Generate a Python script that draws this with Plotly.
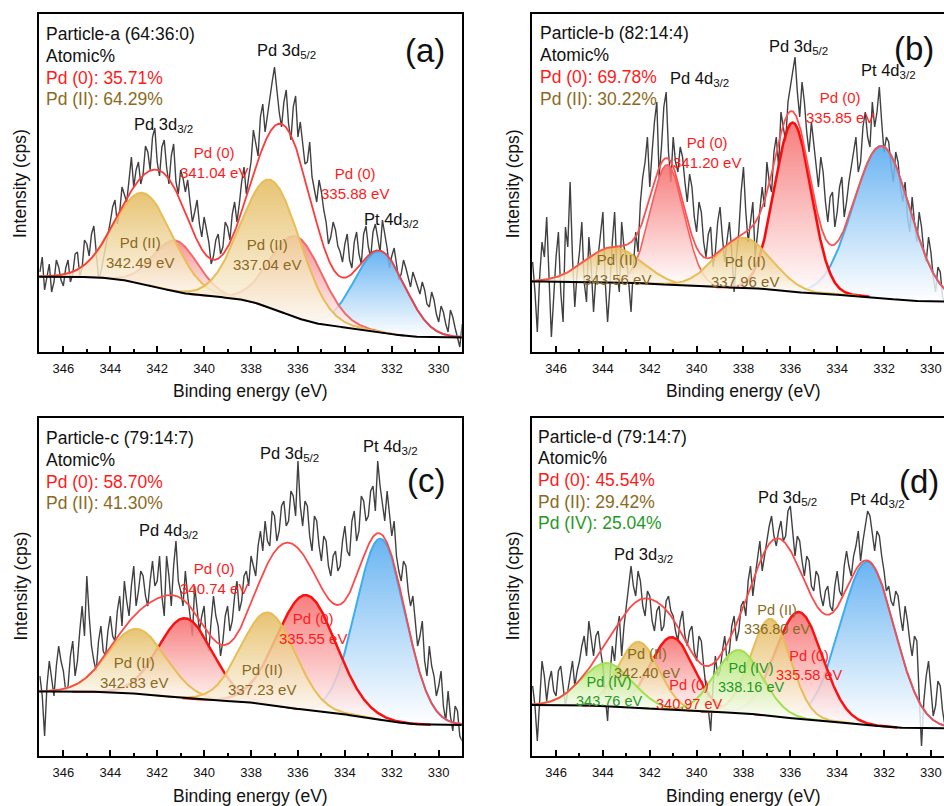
import numpy as np
import plotly.graph_objects as go

# ------------------------------------------------------------------ data
# raw spectra, every 0.1 eV from 347.0 eV down to 329.0 eV
raw_energy = [round(347.0 - 0.1 * i, 1) for i in range(181)]

raw_a = [80, 95, 62, 74, 88, 60, 70, 92, 85, 72, 66, 84, 92, 70, 78, 98, 100, 76, 84, 112,
         108, 96, 118, 126, 96, 74, 80, 92, 104, 118, 130, 145, 152, 128, 140, 165, 158, 150, 172, 195,
         165, 182, 190, 168, 178, 206, 200, 182, 215, 224, 190, 176, 205, 212, 185, 168, 196, 208, 170, 158,
         182, 174, 160, 172, 150, 130, 140, 152, 128, 115, 135, 124, 110, 88, 96, 112, 118, 98, 105, 130,
         125, 112, 138, 150, 130, 148, 170, 185, 158, 175, 190, 222, 210, 196, 235, 248, 220, 238, 255, 270,
         285, 262, 240, 225, 250, 262, 228, 212, 245, 256, 215, 230, 205, 188, 190, 210, 175, 162, 150, 172,
         160, 142, 130, 108, 115, 130, 122, 106, 100, 90, 108, 118, 92, 84, 110, 120, 98, 88, 118, 126,
         105, 95, 120, 128, 112, 100, 132, 118, 104, 84, 96, 104, 88, 72, 78, 92, 84, 74, 65, 80,
         72, 64, 58, 70, 62, 48, 45, 60, 52, 38, 30, 46, 40, 28, 20, 42, 35, 24, 15, 5,
         28]
raw_b = [90, 60, 20, 75, 110, 95, 135, 70, 15, 55, 95, 120, 60, 30, 125, 105, 170, 95, 45, 80,
         100, 130, 70, 50, 115, 85, 40, 75, 95, 118, 140, 70, 30, 65, 110, 140, 80, 60, 130, 105,
         95, 70, 40, 85, 120, 100, 150, 175, 190, 215, 165, 200, 230, 250, 175, 205, 245, 260, 200, 170,
         215, 190, 180, 205, 195, 170, 150, 178, 165, 135, 120, 150, 140, 110, 95, 118, 125, 85, 100, 130,
         145, 115, 90, 112, 130, 100, 60, 95, 120, 160, 185, 140, 110, 130, 150, 95, 120, 140, 165, 145,
         190, 170, 160, 200, 215, 185, 240, 225, 210, 250, 265, 280, 295, 260, 235, 270, 250, 220, 200, 230,
         210, 185, 165, 195, 180, 150, 130, 155, 160, 125, 140, 165, 175, 135, 150, 170, 185, 200, 215, 180,
         190, 225, 240, 215, 205, 250, 225, 240, 265, 230, 200, 215, 210, 185, 170, 200, 190, 165, 150, 170,
         135, 120, 155, 130, 110, 140, 125, 100, 90, 115, 100, 75, 60, 85, 80, 55, 50, 70, 65, 45,
         55]
raw_c = [80, 60, 20, 70, 95, 75, 60, 90, 110, 95, 85, 65, 70, 100, 115, 80, 95, 125, 150, 120,
         180, 140, 110, 95, 85, 115, 130, 105, 100, 125, 140, 120, 115, 145, 160, 130, 175, 155, 140, 170,
         190, 150, 165, 185, 180, 160, 150, 175, 195, 170, 175, 200, 160, 140, 200, 180, 150, 190, 215, 175,
         165, 150, 185, 160, 140, 120, 170, 150, 125, 140, 150, 115, 105, 135, 160, 140, 130, 100, 115, 140,
         150, 125, 135, 160, 175, 145, 155, 180, 185, 170, 200, 190, 180, 210, 225, 205, 235, 215, 210, 245,
         240, 215, 225, 250, 255, 230, 235, 265, 260, 240, 295, 250, 230, 255, 250, 220, 205, 240, 235, 210,
         195, 220, 215, 190, 180, 200, 205, 185, 190, 215, 230, 205, 200, 235, 245, 215, 225, 260, 255, 235,
         240, 265, 270, 245, 295, 270, 250, 235, 265, 240, 220, 235, 200, 185, 175, 195, 190, 165, 150, 160,
         135, 110, 120, 135, 95, 80, 110, 90, 80, 60, 70, 85, 50, 35, 65, 40, 25, 50, 45, 20,
         15]
raw_d = [70, 50, 15, 60, 95, 80, 55, 75, 85, 65, 60, 85, 90, 70, 50, 65, 80, 95, 70, 85,
         95, 110, 120, 100, 135, 115, 100, 120, 125, 105, 90, 60, 35, 80, 110, 95, 125, 140, 100, 130,
         150, 175, 190, 170, 160, 185, 175, 150, 140, 165, 160, 135, 125, 145, 150, 125, 130, 155, 160, 145,
         140, 125, 115, 135, 145, 120, 110, 125, 130, 105, 95, 120, 115, 90, 70, 45, 25, 70, 100, 80,
         85, 105, 120, 95, 105, 130, 140, 115, 125, 150, 155, 140, 175, 190, 160, 180, 200, 215, 185, 200,
         215, 230, 240, 220, 210, 225, 235, 215, 220, 245, 250, 225, 200, 220, 215, 195, 180, 200, 195, 170,
         165, 185, 180, 160, 150, 165, 170, 150, 145, 170, 185, 165, 160, 190, 205, 190, 180, 200, 210, 225,
         195, 215, 230, 245, 240, 220, 205, 225, 220, 200, 185, 165, 170, 155, 150, 165, 160, 140, 125, 150,
         135, 115, 100, 120, 115, 60, 10, 55, 80, 95, 65, 40, 50, 75, 70, 45, 30, 55, 45, 25,
         20]

# fitted components (centre eV, height above background, sigma eV, species)
a_center = [342.59, 341.21, 337.16, 336.06, 332.50]
a_height = [91, 51, 128, 81, 81]
a_sigma = [1.25, 0.95, 1.25, 1.10, 1.07]
a_kind = ["PdII", "Pd0", "PdII", "Pd0", "Pt"]
a_bg = [14.5, 75.3]          # background level at low / high binding energy

b_center = [343.55, 341.25, 338.00, 335.89, 332.10]
b_height = [35, 120, 50, 169, 152]
b_sigma = [1.20, 0.72, 1.18, 0.78, 1.20]
b_kind = ["PdII", "Pd0", "PdII", "Pd0", "Pt"]
b_bg = [50.3, 70.5]

c_center = [342.87, 340.80, 337.27, 335.63, 332.47]
c_height = [65, 80, 92, 115, 181]
c_sigma = [1.23, 1.15, 1.15, 1.26, 1.05]
c_kind = ["PdII", "Pd0", "PdII", "Pd0", "Pt"]
c_bg = [31.0, 64.5]

d_center = [343.83, 342.48, 341.05, 338.20, 336.84, 335.63, 332.70]
d_height = [43, 66, 73, 63, 97, 107, 163]
d_sigma = [1.08, 0.87, 0.92, 1.00, 0.85, 1.00, 1.15]
d_kind = ["PdIV", "PdII", "Pd0", "PdIV", "PdII", "Pd0", "Pt"]
d_bg = [27.5, 51.0]

# text
a_header = ["Particle-a (64:36:0)", "Atomic%", "Pd (0): 35.71%", "Pd (II): 64.29%"]
b_header = ["Particle-b (82:14:4)", "Atomic%", "Pd (0): 69.78%", "Pd (II): 30.22%"]
c_header = ["Particle-c (79:14:7)", "Atomic%", "Pd (0): 58.70%", "Pd (II): 41.30%"]
d_header = ["Particle-d (79:14:7)", "Atomic%", "Pd (0): 45.54%", "Pd (II): 29.42%",
            "Pd (IV): 25.04%"]
header_kind = ["name", "name", "Pd0", "PdII", "PdIV"]

a_labels = [("Pd 3d<sub>5/2</sub>", 336.48, 300.7, "name"),
            ("Pd 3d<sub>3/2</sub>", 341.74, 226.7, "name"),
            ("Pt 4d<sub>3/2</sub>", 332.00, 131.7, "name"),
            ("Pd (0)<br>341.04 eV", 339.60, 189.8, "Pd0"),
            ("Pd (0)<br>335.88 eV", 333.57, 169.0, "Pd0"),
            ("Pd (II)<br>342.49 eV", 342.73, 99.2, "PdII"),
            ("Pd (II)<br>337.04 eV", 337.33, 97.5, "PdII")]
b_labels = [("Pd 4d<sub>3/2</sub>", 339.88, 272.7, "name"),
            ("Pd 3d<sub>5/2</sub>", 335.65, 305.0, "name"),
            ("Pt 4d<sub>3/2</sub>", 331.81, 280.7, "name"),
            ("Pd (0)<br>335.85 eV", 333.87, 244.2, "Pd0"),
            ("Pd (0)<br>341.20 eV", 339.54, 199.5, "Pd0"),
            ("Pd (II)<br>343.56 eV", 343.41, 82.4, "PdII"),
            ("Pd (II)<br>337.96 eV", 337.93, 80.7, "PdII")]
c_labels = [("Pd 3d<sub>5/2</sub>", 336.34, 302.3, "name"),
            ("Pt 4d<sub>3/2</sub>", 332.04, 309.0, "name"),
            ("Pd 4d<sub>3/2</sub>", 341.51, 224.7, "name"),
            ("Pd (0)<br>340.74 eV", 339.59, 177.2, "Pd0"),
            ("Pd (0)<br>335.55 eV", 335.35, 127.7, "Pd0"),
            ("Pd (II)<br>342.83 eV", 343.00, 83.2, "PdII"),
            ("Pd (II)<br>337.23 eV", 337.52, 76.4, "PdII")]
d_labels = [("Pd 3d<sub>5/2</sub>", 336.13, 258.0, "name"),
            ("Pt 4d<sub>3/2</sub>", 332.28, 255.7, "name"),
            ("Pd 3d<sub>3/2</sub>", 342.26, 201.3, "name"),
            ("Pd (II)<br>336.80 eV", 336.56, 136.5, "PdII"),
            ("Pd (0)<br>335.58 eV", 335.20, 90.7, "Pd0"),
            ("Pd (IV)<br>338.16 eV", 337.70, 78.9, "PdIV"),
            ("Pd (II)<br>342.40 eV", 342.12, 92.2, "PdII"),
            ("Pd (0)<br>340.97 eV", 340.34, 61.4, "Pd0"),
            ("Pd (IV)<br>343.76 eV", 343.76, 64.4, "PdIV")]

panel_tag = ["(a)", "(b)", "(c)", "(d)"]
tick_vals = [346, 344, 342, 340, 338, 336, 334, 332, 330]
x_title = "Binding energy (eV)"
y_title = "Intensity (cps)"

# ------------------------------------------------------------------ styling
W, H = 944, 806
FONT = "Liberation Sans, Arial, sans-serif"
TEXT_COL = {"name": "#111111", "Pd0": "#ff1a1a", "PdII": "#8a6a22", "PdIV": "#1f9a1f"}
LINE_COL = {"PdII": "#e9bd55", "Pd0": "#ff1f1f", "Pt": "#3aaef2", "PdIV": "#a2e052"}
FILL_COL = {"PdII": "rgba(228,186,92,0.86)", "Pd0": "rgba(246,104,104,0.86)",
            "Pt": "rgba(86,170,240,0.88)", "PdIV": "rgba(172,228,100,0.84)"}
FILL_BASE = "rgba(255,255,255,0.82)"
DRAW_ORDER = ["Pt", "Pd0", "PdII", "PdIV"]

panels = [
    dict(raw=raw_a, c=a_center, h=a_height, s=a_sigma, k=a_kind, bg=a_bg,
         head=a_header, lab=a_labels, tagpos=(330.59, 302.0), hx=346.81,
         hy=[317.7, 296.0, 274.3, 252.7],
         xd=(39.2, 461.7), yd=(14.0, 352.0), xr=(347.03, 329.02), mirror=True,
         pd0_line=["#f26a6a", "#f26a6a"], pd0_w=[2.0, 2.0], pd0_fill="rgba(246,128,128,0.84)",
         env="#ff3a3a", xt=(250.4, 391.0), yt=(20.0, 184.0), lblsize=15),
    dict(raw=raw_b, c=b_center, h=b_height, s=b_sigma, k=b_kind, bg=b_bg,
         head=b_header, lab=b_labels, tagpos=(330.74, 303.7), hx=346.78,
         hy=[318.7, 297.0, 275.3, 253.3],
         xd=(531.7, 944.0), yd=(14.0, 352.0), xr=(347.04, 329.44), mirror=False,
         pd0_line=["#ff5a5a", "#ff0a0a"], pd0_w=[1.6, 2.6], pd0_fill=FILL_COL["Pd0"],
         env="#ff5050", xt=(743.0, 391.0), yt=(513.3, 184.0), lblsize=15),
    dict(raw=raw_c, c=c_center, h=c_height, s=c_sigma, k=c_kind, bg=c_bg,
         head=c_header, lab=c_labels, tagpos=(330.54, 276.0), hx=346.81,
         hy=[317.7, 296.0, 274.3, 252.7],
         xd=(39.2, 461.7), yd=(417.5, 756.0), xr=(347.03, 329.02), mirror=True,
         pd0_line=["#ff1010", "#ff1010"], pd0_w=[2.5, 2.5], pd0_fill=FILL_COL["Pd0"],
         env="#ff4848", xt=(250.4, 796.0), yt=(20.0, 586.5), lblsize=15),
    dict(raw=raw_d, c=d_center, h=d_height, s=d_sigma, k=d_kind, bg=d_bg,
         head=d_header, lab=d_labels, tagpos=(330.49, 274.3), hx=346.86,
         hy=[319.3, 297.7, 276.0, 254.3, 232.7],
         xd=(531.7, 944.0), yd=(417.5, 756.0), xr=(347.04, 329.44), mirror=False,
         pd0_line=["#ff1010", "#ff1010"], pd0_w=[2.5, 2.5], pd0_fill=FILL_COL["Pd0"],
         env="#ff4848", xt=(743.0, 796.0), yt=(513.3, 586.0), lblsize=14.5),
]

grid = np.linspace(328.8, 347.2, 921)   # ascending binding energy

fig = go.Figure()
annotations = []
layout_axes = {}

for i, p in enumerate(panels):
    n = "" if i == 0 else str(i + 1)
    xa, ya = "x" + n, "y" + n
    comps = [h * np.exp(-(grid - c) ** 2 / (2 * s ** 2))
             for c, h, s in zip(p["c"], p["h"], p["s"])]
    total = np.sum(comps, axis=0)
    shirley = np.cumsum(total) / total.sum()
    bg = p["bg"][0] + (p["bg"][1] - p["bg"][0]) * shirley

    # raw spectrum
    fig.add_trace(go.Scatter(x=raw_energy, y=p["raw"], mode="lines",
                             line=dict(color="#404040", width=1.4),
                             xaxis=xa, yaxis=ya, showlegend=False, hoverinfo="skip"))

    # line style of each component
    styles = []
    j0 = 0
    for k in p["k"]:
        if k == "Pd0":
            styles.append((p["pd0_line"][j0], p["pd0_w"][j0], p["pd0_fill"]))
            j0 += 1
        else:
            styles.append((LINE_COL[k], 2.0, FILL_COL[k]))

    order = sorted(range(len(p["k"])), key=lambda q: DRAW_ORDER.index(p["k"][q]))
    for q in order:
        c, s, comp = p["c"][q], p["s"][q], comps[q]
        lcol, lw, fcol = styles[q]
        m = (grid > c - 4.2 * s) & (grid < c + 4.2 * s)
        xs = grid[m]
        top = (bg + comp)[m]
        base = bg[m]
        fig.add_trace(go.Scatter(
            x=np.concatenate([xs, xs[::-1]]), y=np.concatenate([top, base[::-1]]),
            mode="none", fill="toself",
            fillgradient=dict(type="vertical", start=float(base.min()), stop=float(top.max()),
                              colorscale=[[0, FILL_BASE], [1, fcol]]),
            xaxis=xa, yaxis=ya, showlegend=False, hoverinfo="skip"))
        fig.add_trace(go.Scatter(x=xs, y=top, mode="lines",
                                 line=dict(color=lcol, width=lw),
                                 xaxis=xa, yaxis=ya, showlegend=False, hoverinfo="skip"))

    # envelope and background
    fig.add_trace(go.Scatter(x=grid, y=bg + total, mode="lines",
                             line=dict(color=p["env"], width=1.8),
                             xaxis=xa, yaxis=ya, showlegend=False, hoverinfo="skip"))
    fig.add_trace(go.Scatter(x=grid, y=bg, mode="lines",
                             line=dict(color="black", width=2.0),
                             xaxis=xa, yaxis=ya, showlegend=False, hoverinfo="skip"))

    # axes
    yr = p["yd"][1] - p["yd"][0]
    layout_axes["xaxis" + n] = dict(
        domain=[p["xd"][0] / W, p["xd"][1] / W], range=list(p["xr"]), anchor=ya,
        showline=True, linecolor="black", linewidth=2, mirror=True,
        ticks="inside", ticklen=6, tickwidth=2, tickcolor="black",
        tickvals=tick_vals, ticklabelstandoff=3,
        tickfont=dict(family=FONT, size=13, color="#111111"),
        minor=dict(ticks="inside", ticklen=3, tickwidth=2, tickcolor="black",
                   dtick=1, tick0=0, showgrid=False),
        showgrid=False, zeroline=False)
    layout_axes["yaxis" + n] = dict(
        domain=[1 - p["yd"][1] / H, 1 - p["yd"][0] / H], range=[0, yr], anchor=xa,
        showline=True, linecolor="black", linewidth=2, mirror=p["mirror"],
        ticks="", showticklabels=False, showgrid=False, zeroline=False)

    # header text
    for t, yy, kk in zip(p["head"], p["hy"], header_kind):
        annotations.append(dict(text=t, x=p["hx"], y=yy, xref=xa, yref=ya,
                                xanchor="left", yanchor="middle", showarrow=False,
                                font=dict(family=FONT, size=17.5, color=TEXT_COL[kk])))
    # peak labels
    for t, xx, yy, kk in p["lab"]:
        size = 16.5 if kk == "name" else p["lblsize"]
        annotations.append(dict(text=t, x=xx, y=yy, xref=xa, yref=ya,
                                xanchor="center", yanchor="middle", showarrow=False,
                                align="center",
                                font=dict(family=FONT, size=size, color=TEXT_COL[kk])))
    # panel tag
    annotations.append(dict(text=panel_tag[i], x=p["tagpos"][0], y=p["tagpos"][1],
                            xref=xa, yref=ya, xanchor="center", yanchor="middle",
                            showarrow=False, font=dict(family=FONT, size=33, color="#111111")))
    # axis titles
    annotations.append(dict(text=x_title, x=p["xt"][0] / W, y=1 - p["xt"][1] / H,
                            xref="paper", yref="paper", xanchor="center", yanchor="middle",
                            showarrow=False, font=dict(family=FONT, size=17.5, color="#111111")))
    annotations.append(dict(text=y_title, x=p["yt"][0] / W, y=1 - p["yt"][1] / H,
                            xref="paper", yref="paper", xanchor="center", yanchor="middle",
                            textangle=-90, showarrow=False,
                            font=dict(family=FONT, size=17.5, color="#111111")))

fig.update_layout(width=W, height=H, margin=dict(l=0, r=0, t=0, b=0),
                  paper_bgcolor="white", plot_bgcolor="white",
                  font=dict(family=FONT), annotations=annotations, **layout_axes)

fig.write_html("out.html", config={"displayModeBar": False},
               post_script="document.body.style.margin='0';document.body.style.overflow='hidden';")
